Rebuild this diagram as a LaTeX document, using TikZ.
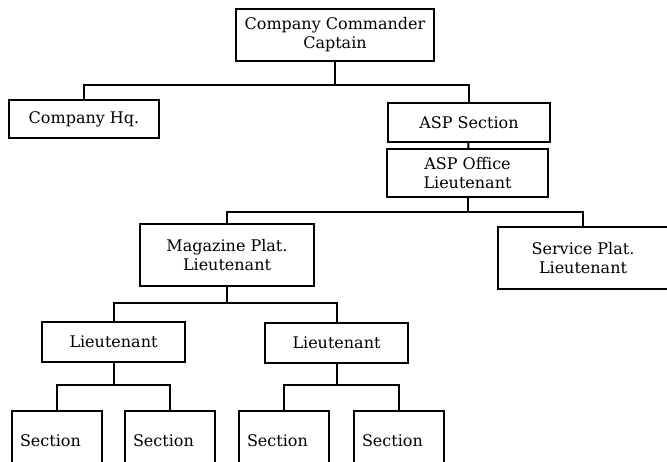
\documentclass[tikz,border=0pt]{standalone}
\usepackage{fontspec}
\setmainfont{DejaVu Serif}
\usepackage{tikz}
\tikzstyle{unit}=[rectangle, draw
,line width=2pt
,inner sep=0pt
,align=center
,font=\fontsize{16}{19}\selectfont
]
\tikzstyle{section unit} = [unit, align=left, text width=74pt, inner xsep=8pt, minimum height=59pt]
\tikzstyle{edge} = [draw,line width=2pt,-]

\begin{document}
\begin{tikzpicture}[x=1pt,y=-1pt]
    \useasboundingbox (0,0) rectangle (667,461);
    % Draw the company chart
    % First we draw the boxes
    \node[unit, minimum width=198pt, minimum height=52pt] (cc) at (335,35) {Company Commander\\Captain};
    \node[unit, minimum width=150pt, minimum height=38pt] (hq) at (84,119) {Company Hq.};
    \node[unit, minimum width=162pt, minimum height=39pt] (asps) at (469,122.5) {ASP Section};
    \node[unit, minimum width=161pt, minimum height=48pt] (aspo) at (467.5,173) {ASP Office\\Lieutenant};
    \node[unit, minimum width=174pt, minimum height=62pt] (mag) at (227,255) {Magazine Plat.\\Lieutenant};
    \node[unit, minimum width=170pt, minimum height=62pt] (serv) at (583,258) {Service Plat.\\Lieutenant};

    \foreach \pos/\name in {{(113.5,342)/lt1}, {(336.5,343)/lt2}}
        \node[unit, minimum width=143pt, minimum height=40pt] (\name) at \pos {Lieutenant};

    \foreach \pos/\name in {{(57,440.5)/sec1}, {(170,440.5)/sec2}, {(284,440.5)/sec3}, {(399,440.5)/sec4}}
        \node[section unit] (\name) at \pos {Section};

    % Levels of the branch lines
    \coordinate (bus1) at (0,85);
    \coordinate (bus2) at (0,212);
    \coordinate (bus3) at (0,303);
    \coordinate (bus4) at (0,385);

    % Connect boxes with lines
    \path[edge] (asps) -- (aspo);
    \foreach \source/\dest/\bus in {cc/hq/bus1, cc/asps/bus1, aspo/mag/bus2, aspo/serv/bus2,
        mag/lt1/bus3, mag/lt2/bus3, lt1/sec1/bus4, lt1/sec2/bus4, lt2/sec3/bus4, lt2/sec4/bus4}
        \path[edge] (\source.south) -- (\source.south |- \bus) -| (\dest.north);

\end{tikzpicture}
\end{document}
